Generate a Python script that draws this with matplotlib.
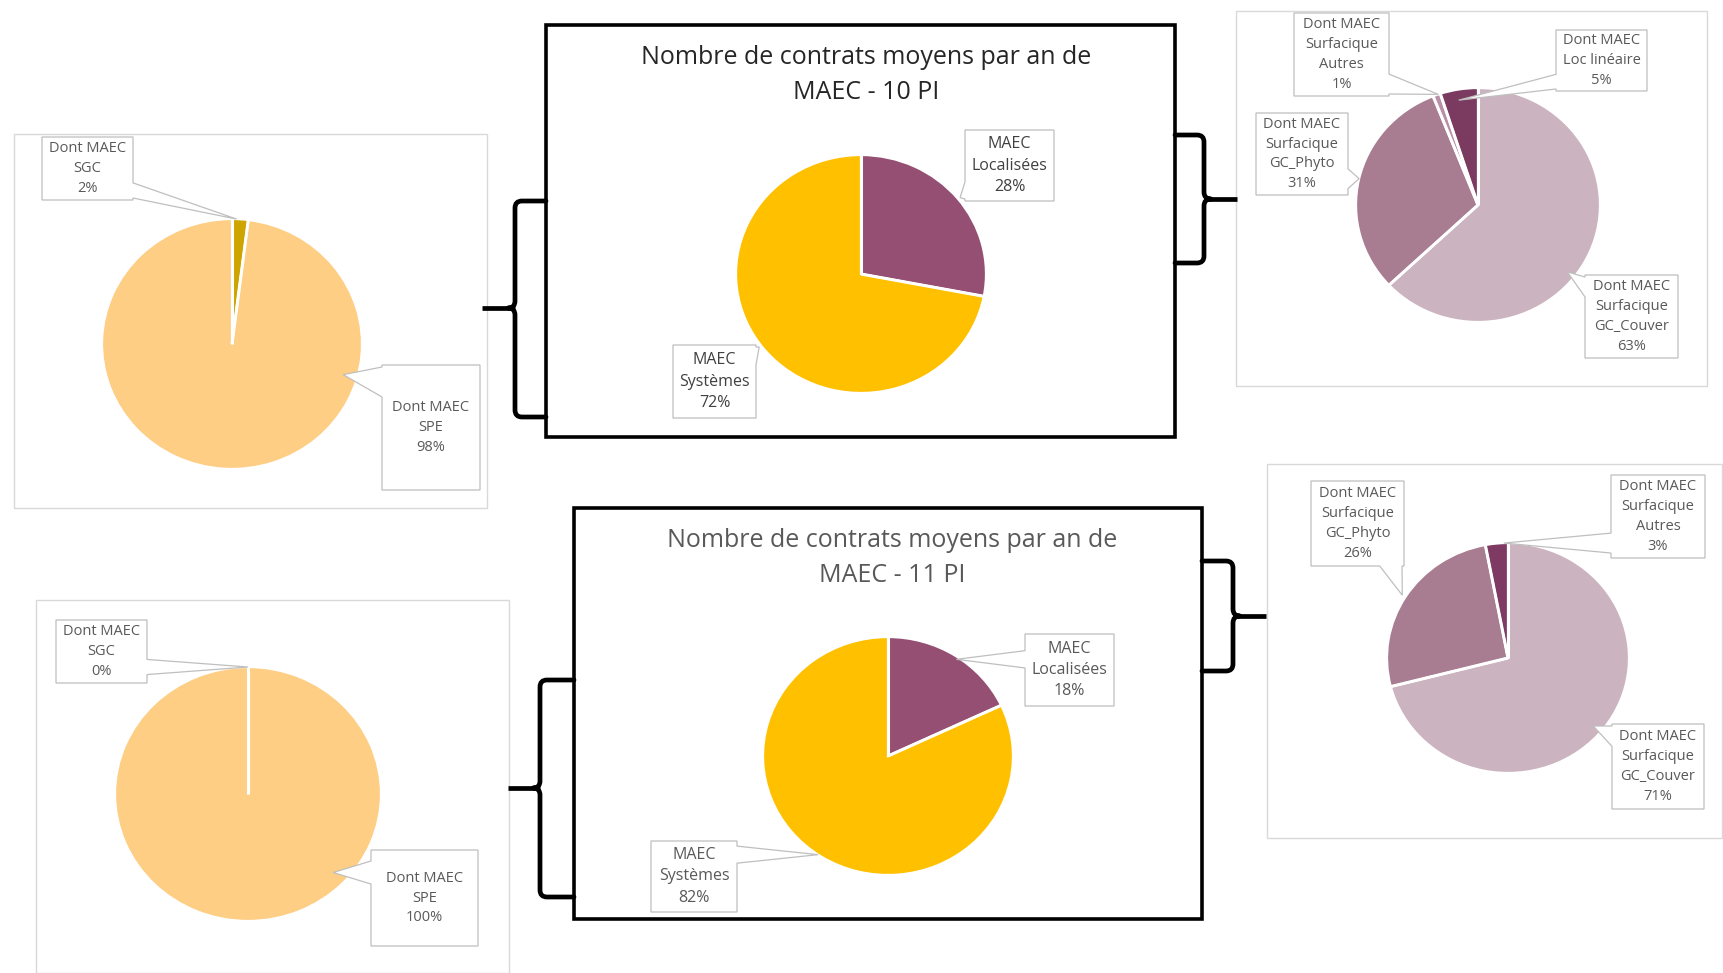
import matplotlib
matplotlib.use("Agg")
import matplotlib.pyplot as plt
import numpy as np
from matplotlib.patches import Rectangle, Polygon, PathPatch
from matplotlib.path import Path

plt.rcParams['font.family'] = ['Open Sans', 'DejaVu Sans']

W, H = 1724, 973

# ---- data -------------------------------------------------------------
titles = ["Nombre de contrats moyens par an de\nMAEC - 10 PI",
          "Nombre de contrats moyens par an de\nMAEC - 11 PI"]

main_labels = ["MAEC\nLocalisées", "MAEC\nSystèmes"]
main_10 = [28, 72]
main_11 = [18, 82]

sys_labels = ["Dont MAEC\nSGC", "Dont MAEC\nSPE"]
sys_10 = [2, 98]
sys_11 = [0, 100]

loc_labels_10 = ["Dont MAEC\nSurfacique\nGC_Couver", "Dont MAEC\nSurfacique\nGC_Phyto",
                 "Dont MAEC\nSurfacique\nAutres", "Dont MAEC\nLoc linéaire"]
loc_10 = [63, 31, 1, 5]
loc_labels_11 = ["Dont MAEC\nSurfacique\nGC_Couver", "Dont MAEC\nSurfacique\nGC_Phyto",
                 "Dont MAEC\nSurfacique\nAutres"]
loc_11 = [71, 26, 3]

main_colors = ["#954F72", "#FFC000"]
sys_colors = ["#CDA400", "#FDCE83"]
loc_colors_10 = ["#CBB3BF", "#A87C91", "#B98FA7", "#7B3A5F"]
loc_colors_11 = ["#CBB3BF", "#A87C91", "#7E3A63"]

fig = plt.figure(figsize=(W / 100, H / 100), dpi=100)
fig.patch.set_facecolor("white")

bg = fig.add_axes([0, 0, 1, 1])
bg.set_xlim(0, W)
bg.set_ylim(H, 0)
bg.axis("off")


def frame(ax, x0, y0, x1, y1, color, lw):
    ax.add_patch(Rectangle((x0, y0), x1 - x0, y1 - y0, fill=False,
                           edgecolor=color, linewidth=lw))


def brace(ax, x_end, x_v, x_tip, y_top, y_mid, y_bot, r=7):
    s = np.sign(x_end - x_v)
    verts = [(x_end, y_top), (x_v + s * r, y_top), (x_v, y_top), (x_v, y_top + r),
             (x_v, y_mid - r), (x_v, y_mid), (x_v - s * r, y_mid),
             (x_v, y_mid), (x_v, y_mid + r),
             (x_v, y_bot - r), (x_v, y_bot), (x_v + s * r, y_bot), (x_end, y_bot)]
    codes = [Path.MOVETO, Path.LINETO, Path.CURVE3, Path.CURVE3,
             Path.LINETO, Path.CURVE3, Path.CURVE3,
             Path.CURVE3, Path.CURVE3,
             Path.LINETO, Path.CURVE3, Path.CURVE3, Path.LINETO]
    ax.add_patch(PathPatch(Path(verts, codes), fill=False, edgecolor="black",
                           linewidth=3.4, capstyle="round", joinstyle="round"))
    ax.plot([x_v, x_tip], [y_mid, y_mid], color="black", lw=3.4,
            solid_capstyle="butt")


def pie(cx, cy, rx, ry, values, colors):
    ax = fig.add_axes([(cx - rx) / W, 1 - (cy + ry) / H, 2 * rx / W, 2 * ry / H])
    ax.pie(values, colors=colors, startangle=90, counterclock=False,
           wedgeprops=dict(edgecolor="white", linewidth=1.6))
    # white separators on every slice boundary (also shows empty slices)
    bounds = 90 - 360 * np.cumsum([0] + list(values)) / np.sum(values)
    for b in bounds[:-1]:
        ax.plot([0, np.cos(np.radians(b))], [0, np.sin(np.radians(b))],
                color="white", lw=2.2, solid_capstyle="butt")
    ax.set_aspect("auto")
    ax.set_xlim(-1, 1)
    ax.set_ylim(-1, 1)
    ax.patch.set_visible(False)
    ax.axis("off")
    return (cx, cy, rx, ry)


# panel frames
frame(bg, 14, 134, 487, 508, "#D9D9D9", 1.0)
frame(bg, 1236, 11, 1707, 386, "#D9D9D9", 1.0)
frame(bg, 36, 600, 509, 973, "#D9D9D9", 1.0)
frame(bg, 1267, 464, 1722, 838, "#D9D9D9", 1.0)
frame(bg, 546, 25, 1175, 437, "black", 2.6)
frame(bg, 574, 508, 1202, 919, "black", 2.6)

# braces linking the charts
brace(bg, 546, 515, 482, 201, 308, 417)
brace(bg, 1175, 1204, 1237, 135, 199, 263)
brace(bg, 574, 540, 508, 680, 788, 897)
brace(bg, 1202, 1233, 1266, 561, 616, 671)

# titles
bg.text(866, 75, titles[0], ha="center", va="center", fontsize=18,
        color="#262626", linespacing=1.5)
bg.text(892, 558, titles[1], ha="center", va="center", fontsize=18,
        color="#595959", linespacing=1.5)

# pies
p_tl = pie(232, 344, 130, 125, sys_10, sys_colors)
p_tm = pie(861, 274, 125, 119, main_10, main_colors)
p_tr = pie(1478, 205, 122, 117, loc_10, loc_colors_10)
p_bl = pie(248, 794, 133, 127, sys_11, sys_colors)
p_bm = pie(888, 756, 125, 119, main_11, main_colors)
p_br = pie(1508, 658, 121, 115, loc_11, loc_colors_11)

top = fig.add_axes([0, 0, 1, 1])
top.set_xlim(0, W)
top.set_ylim(H, 0)
top.axis("off")
top.patch.set_visible(False)


def callout(ax, geom, box, ang, rr, text, fs=10.5, color="#595959"):
    cx, cy, rx, ry = geom
    tx = cx + rr * rx * np.cos(np.radians(ang))
    ty = cy - rr * ry * np.sin(np.radians(ang))
    x0, y0, x1, y1 = box
    if tx < x0 or tx > x1:
        L = y1 - y0
        w = 0.12 * L
        c = np.clip(ty, y0 + w + 2, y1 - w - 2)
        if tx > x1:
            pts = [(x0, y0), (x1, y0), (x1, c - w), (tx, ty), (x1, c + w), (x1, y1), (x0, y1)]
        else:
            pts = [(x0, y0), (x1, y0), (x1, y1), (x0, y1), (x0, c + w), (tx, ty), (x0, c - w)]
    else:
        L = x1 - x0
        w = 0.12 * L
        c = np.clip(tx, x0 + w + 2, x1 - w - 2)
        if ty < y0:
            pts = [(x0, y0), (c - w, y0), (tx, ty), (c + w, y0), (x1, y0), (x1, y1), (x0, y1)]
        else:
            pts = [(x0, y0), (x1, y0), (x1, y1), (c + w, y1), (tx, ty), (c - w, y1), (x0, y1)]
    ax.add_patch(Polygon(pts, closed=True, facecolor="white", edgecolor="#BFBFBF",
                         linewidth=0.9))
    ax.text((x0 + x1) / 2, (y0 + y1) / 2, text, ha="center", va="center",
            fontsize=fs, color=color, linespacing=1.45)


def pct_text(label, v):
    return f"{label}\n{v}%"


# 10 PI
callout(top, p_tl, (42, 137, 133, 200), 88, 1.0, pct_text(sys_labels[0], sys_10[0]))
callout(top, p_tl, (382, 365, 480, 490), -16, 0.89, pct_text(sys_labels[1], sys_10[1]))
callout(top, p_tm, (965, 130, 1054, 201), 39, 1.02, pct_text(main_labels[0], main_10[0]),
        fs=11.5, color="#404040")
callout(top, p_tm, (673, 345, 756, 418), 217, 1.02, pct_text(main_labels[1], main_10[1]),
        fs=11.5, color="#404040")
tr_boxes = [((1585, 275, 1678, 358), -38, 0.93), ((1256, 113, 1348, 195), 167, 1.0),
            ((1294, 13, 1389, 96), 109, 1.0), ((1556, 30, 1647, 91), 100, 0.91)]
for (box, a, r), lab, v in zip(tr_boxes, loc_labels_10, loc_10):
    callout(top, p_tr, box, a, r, pct_text(lab, v))

# 11 PI
callout(top, p_bl, (56, 620, 147, 683), 90, 1.0, pct_text(sys_labels[0], sys_11[0]))
callout(top, p_bl, (371, 850, 478, 946), -44, 0.89, pct_text(sys_labels[1], sys_11[1]))
callout(top, p_bm, (1025, 634, 1114, 706), 56, 0.98, pct_text(main_labels[0], main_11[0]),
        fs=11.5)
callout(top, p_bm, (651, 841, 737, 912), 236, 1.0, pct_text(main_labels[1], main_11[1]),
        fs=11.5)
br_boxes = [((1612, 724, 1704, 809), -40, 0.92), ((1311, 481, 1404, 566), 148, 1.03),
            ((1611, 475, 1705, 558), 92, 1.0)]
for (box, a, r), lab, v in zip(br_boxes, loc_labels_11, loc_11):
    callout(top, p_br, box, a, r, pct_text(lab, v))

fig.savefig("out.png", dpi=100, facecolor="white")
